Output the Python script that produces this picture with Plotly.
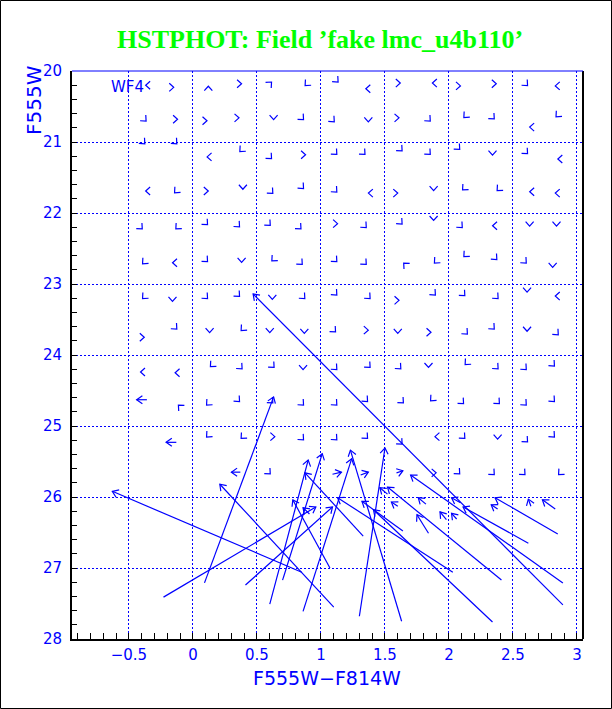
import math
import plotly.graph_objects as go

# ---------------- data ----------------
# Artificial stars with tiny recovered offsets (only the arrow head shows)
g_color = [
    -0.35, -0.17, 0.12, 0.36, 0.60, 0.89, 1.12, 1.37, 1.60, 1.89, 2.07, 2.35, 2.60, 2.85,
    -0.38, -0.14, 0.09, 0.34, 0.63, 0.85, 1.09, 1.37, 1.59, 1.84, 2.13, 2.34, 2.65, 2.85,
    -0.39, -0.14, 0.13, 0.38, 0.60, 0.86, 1.11, 1.33, 1.62, 1.84, 2.07, 2.34, 2.60, 2.87,
    -0.35, -0.13, 0.10, 0.39, 0.61, 0.85, 1.11, 1.39, 1.58, 1.88, 2.12, 2.39, 2.65, 2.85,
    -0.41, -0.12, 0.10, 0.35, 0.59, 0.83, 1.11, 1.34, 1.62, 1.88, 2.09, 2.36, 2.63, 2.84,
    -0.38, -0.14, 0.10, 0.38, 0.63, 0.84, 1.11, 1.34, 1.66, 1.90, 2.13, 2.36, 2.59, 2.81,
    -0.38, -0.16, 0.10, 0.35, 0.62, 0.86, 1.11, 1.37, 1.59, 1.88, 2.11, 2.37, 2.61, 2.85,
    -0.40, -0.14, 0.13, 0.39, 0.60, 0.87, 1.10, 1.35, 1.60, 1.84, 2.13, 2.34, 2.61, 2.84,
    -0.39, -0.12, 0.15, 0.37, 0.62, 0.86, 1.11, 1.37, 1.61, 1.84, 2.14, 2.37, 2.59, 2.81,
    -0.10, 0.12, 0.35, 0.61, 0.85, 1.11, 1.35, 1.63, 1.87, 2.10, 2.38, 2.59, 2.81,
    0.12, 0.39, 0.62, 0.85, 1.11, 1.35, 1.62, 1.91, 2.11, 2.38, 2.60, 2.81,
    0.59, 1.88, 2.07, 2.34, 2.58, 2.87,
]
g_mag = [
    20.20, 20.23, 20.25, 20.18, 20.18, 20.18, 20.13, 20.25, 20.17, 20.17, 20.21, 20.18, 20.18, 20.21,
    20.68, 20.68, 20.70, 20.66, 20.65, 20.66, 20.69, 20.68, 20.66, 20.68, 20.63, 20.65, 20.79, 20.62,
    21.00, 21.00, 21.21, 21.11, 21.21, 21.18, 21.15, 21.15, 21.10, 21.15, 21.08, 21.15, 21.14, 21.24,
    21.69, 21.69, 21.69, 21.63, 21.70, 21.63, 21.68, 21.72, 21.72, 21.65, 21.65, 21.66, 21.70, 21.72,
    22.20, 22.20, 22.14, 22.17, 22.15, 22.20, 22.15, 22.18, 22.13, 22.07, 22.18, 22.18, 22.15, 22.15,
    22.69, 22.70, 22.66, 22.66, 22.65, 22.70, 22.66, 22.70, 22.73, 22.68, 22.59, 22.63, 22.68, 22.73,
    23.18, 23.21, 23.18, 23.15, 23.18, 23.18, 23.13, 23.18, 23.23, 23.13, 23.14, 23.18, 23.08, 23.17,
    23.75, 23.61, 23.65, 23.63, 23.65, 23.66, 23.65, 23.65, 23.66, 23.68, 23.68, 23.61, 23.63, 23.69,
    24.24, 24.25, 24.14, 24.17, 24.15, 24.17, 24.18, 24.15, 24.17, 24.14, 24.11, 24.17, 24.18, 24.13,
    24.73, 24.68, 24.63, 24.65, 24.68, 24.68, 24.63, 24.65, 24.62, 24.66, 24.66, 24.68, 24.63,
    25.13, 25.15, 25.15, 25.17, 25.17, 25.15, 25.23, 25.15, 25.15, 25.15, 25.20, 25.13,
    25.65, 25.66, 25.65, 25.66, 25.66, 25.66,
]
g_dir = [
    "W", "E", "N", "E", "NE", "SW", "SE", "W", "E", "W", "E", "E", "SE", "W",
    "SE", "E", "E", "E", "S", "SE", "SE", "S", "E", "SE", "SW", "SE", "W", "SW",
    "SE", "SE", "W", "SW", "SE", "E", "SE", "SE", "SE", "SE", "SE", "S", "SE", "W",
    "W", "SW", "E", "S", "SE", "SE", "SE", "W", "E", "S", "SW", "SW", "W", "W",
    "SE", "SW", "SE", "SE", "SE", "SE", "E", "SE", "SE", "S", "SE", "W", "S", "S",
    "SW", "W", "SE", "S", "SW", "SE", "SE", "SE", "NW", "SW", "SW", "SE", "SE", "S",
    "SW", "S", "SE", "SE", "S", "SE", "SE", "SE", "E", "SE", "SE", "SE", "S", "W",
    "E", "SE", "S", "SW", "S", "S", "SE", "E", "S", "E", "SE", "SE", "S", "SE",
    "W", "W", "SW", "SE", "SE", "S", "SE", "SE", "SE", "S", "SW", "SE", "SE", "SE",
    "NW", "SW", "SE", "SE", "SE", "SE", "SE", "SE", "SW", "SE", "SE", "SE", "SE",
    "SW", "SW", "E", "SE", "SE", "SE", "SE", "W", "SE", "S", "SE", "SE",
    "SE", "E", "SE", "SE", "SE", "SW",
]

# Artificial stars with visible shifts: input -> recovered
color_in = [-0.36, -0.13, 0.37, 1.09, 1.31, 1.59,
            0.85, 1.10, 0.09, -0.23, 2.89, 0.60, 0.70, 1.63, 1.30, 0.86,
            1.33, 1.07, 0.41, 2.03, 2.89, 2.85, 2.62, 2.41, 2.34, 1.84, 1.64, 2.83,
            1.82, 2.09, 1.98, 2.06, 2.38, 2.64, 1.52, 0.91, 1.60]
mag_in = [24.63, 25.23, 25.65, 25.68, 25.69, 25.66,
          27.06, 27.55, 27.21, 27.41, 27.52, 27.51, 27.17, 27.75, 27.68, 27.61,
          26.55, 27.00, 27.24, 27.06, 27.21, 26.52, 26.65, 27.17, 27.76, 26.51, 26.48, 26.17,
          26.10, 26.08, 26.32, 26.31, 26.17, 26.13, 25.96, 26.24, 26.13]
color_out = [-0.44, -0.21, 0.30, 1.16, 1.37, 1.64,
             -0.63, 0.21, 0.63, 0.96, 0.47, 0.90, 1.01, 1.23, 1.50, 1.24,
             0.875, 0.78, 1.09, 1.13, 1.70, 2.36, 2.11, 1.52, 1.41, 1.75, 1.32, 2.73,
             1.76, 2.02, 1.93, 2.02, 2.33, 2.62, 1.46, 0.86, 1.55]
mag_out = [24.63, 25.23, 25.65, 25.65, 25.65, 25.63,
           25.92, 25.82, 24.59, 26.14, 23.14, 25.48, 25.39, 25.34, 25.31, 25.46,
           25.66, 26.04, 26.14, 26.01, 25.69, 26.01, 26.14, 25.86, 26.18, 26.25, 26.06, 26.04,
           26.01, 26.01, 26.21, 26.23, 26.11, 26.03, 25.87, 26.15, 26.07]

x_range = [-0.945, 3.047]
y_range = [28.0, 20.0]
x_ticks = [-0.5, 0, 0.5, 1, 1.5, 2, 2.5, 3]
y_ticks = [20, 21, 22, 23, 24, 25, 26, 27, 28]

# ---------------- layout geometry ----------------
W, H = 612, 709
ML, MR, MT, MB = 72, 29, 71, 70
PW, PH = W - ML - MR, H - MT - MB
SX = PW / (x_range[1] - x_range[0])      # px per colour unit
SY = PH / (y_range[0] - y_range[1])      # px per magnitude (down = fainter)

BLUE = "#0000ff"
GREEN = "#00ff00"

UNIT = {"E": (1, 0), "W": (-1, 0), "N": (0, -1), "S": (0, 1),
        "NE": (1, -1), "NW": (-1, -1), "SE": (1, 1), "SW": (-1, 1)}


def wings(xh, yh, ux, uy, length, ang):
    """return the data coords of the two barbs of an open arrow head"""
    n = math.hypot(ux, uy)
    ux, uy = ux / n, uy / n
    out = []
    for s in (1, -1):
        a = math.radians(ang) * s
        bx, by = -ux, -uy
        rx = bx * math.cos(a) - by * math.sin(a)
        ry = bx * math.sin(a) + by * math.cos(a)
        out.append((xh + rx * length / SX, yh + ry * length / SY))
    return out


xs, ys = [], []

# tiny offsets: heads only
for c, m, d in zip(g_color, g_mag, g_dir):
    ux, uy = UNIT[d]
    n = math.hypot(ux, uy)
    tipx = c + (ux / n) * 2.5 / SX
    tipy = m + (uy / n) * 2.5 / SY
    p1, p2 = wings(tipx, tipy, ux, uy, 6.0, 42)
    xs += [p1[0], tipx, p2[0], None]
    ys += [p1[1], tipy, p2[1], None]

# visible shifts: shaft + head
for ci, mi, co, mo in zip(color_in, mag_in, color_out, mag_out):
    ux = (co - ci) * SX
    uy = (mo - mi) * SY
    p1, p2 = wings(co, mo, ux, uy, 7.0, 35)
    xs += [ci, co, None, p1[0], co, p2[0], None]
    ys += [mi, mo, None, p1[1], mo, p2[1], None]

fig = go.Figure()
fig.add_trace(go.Scatter(x=xs, y=ys, mode="lines",
                         line=dict(color=BLUE, width=1.2),
                         hoverinfo="skip", showlegend=False))

tickfont = dict(family="DejaVu Sans", size=15, color=BLUE)

fig.update_layout(
    width=W, height=H,
    margin=dict(l=ML, r=MR, t=MT, b=MB, pad=0),
    paper_bgcolor="white", plot_bgcolor="white",
    showlegend=False,
    xaxis=dict(range=x_range, tickvals=x_ticks, showgrid=True,
               gridcolor=BLUE, gridwidth=1, griddash="2px,2px",
               zeroline=False, showline=True, linecolor="black", linewidth=2,
               ticks="inside", ticklen=6, tickcolor="black", tickwidth=1,
               tickfont=tickfont, ticklabelstandoff=1,
               minor=dict(dtick=0.1, tick0=0, ticks="inside", ticklen=6,
                          tickcolor="black", tickwidth=1, showgrid=False)),
    yaxis=dict(range=y_range, tickvals=y_ticks, showgrid=True,
               gridcolor=BLUE, gridwidth=1, griddash="2px,2px",
               zeroline=False, showline=True, linecolor="black", linewidth=2,
               ticks="inside", ticklen=5, tickcolor="black", tickwidth=1,
               tickfont=tickfont, ticklabelstandoff=5,
               minor=dict(dtick=0.2, tick0=20, ticks="inside", ticklen=5,
                          tickcolor="black", tickwidth=1, showgrid=False)),
)

# frame: right edge black, top edge blue; whole-picture border
fig.add_shape(type="line", xref="paper", yref="paper", x0=1, x1=1, y0=0, y1=1,
              line=dict(color="black", width=2))
fig.add_shape(type="line", xref="paper", yref="paper", x0=0, x1=1, y0=1, y1=1,
              line=dict(color=BLUE, width=1))
fig.add_shape(type="rect", xref="paper", yref="paper",
              x0=(0.5 - ML) / PW, x1=(W - 0.5 - ML) / PW,
              y0=-(H - 0.5 - MT - PH) / PH, y1=1 + (MT - 0.5) / PH,
              line=dict(color="black", width=1))

fig.add_annotation(text="HSTPHOT: Field \u2019fake lmc_u4b110\u2019",
                   xref="paper", yref="paper",
                   x=(320 - ML) / PW, y=1 + (MT - 40) / PH,
                   xanchor="center", yanchor="middle", showarrow=False,
                   font=dict(family="Liberation Serif", size=26, color=GREEN,
                             weight="bold"))
fig.add_annotation(text="F555W\u2212F814W", xref="paper", yref="paper",
                   x=(327 - ML) / PW, y=-(678 - MT - PH) / PH,
                   xanchor="center", yanchor="middle", showarrow=False,
                   font=dict(family="DejaVu Sans", size=19, color=BLUE))
fig.add_annotation(text="F555W", xref="paper", yref="paper",
                   x=(34 - ML) / PW, y=1 - (100 - MT) / PH, textangle=-90,
                   xanchor="center", yanchor="middle", showarrow=False,
                   font=dict(family="DejaVu Sans", size=20, color=BLUE))
fig.add_annotation(text="WF4", xref="x", yref="y", x=-0.51, y=20.23,
                   xanchor="center", yanchor="middle", showarrow=False,
                   font=dict(family="DejaVu Sans", size=15, color=BLUE))

fig.write_html("out.html",
               config={"displayModeBar": False},
               post_script="document.body.style.margin='0px';"
                           "document.body.style.overflow='hidden';")
